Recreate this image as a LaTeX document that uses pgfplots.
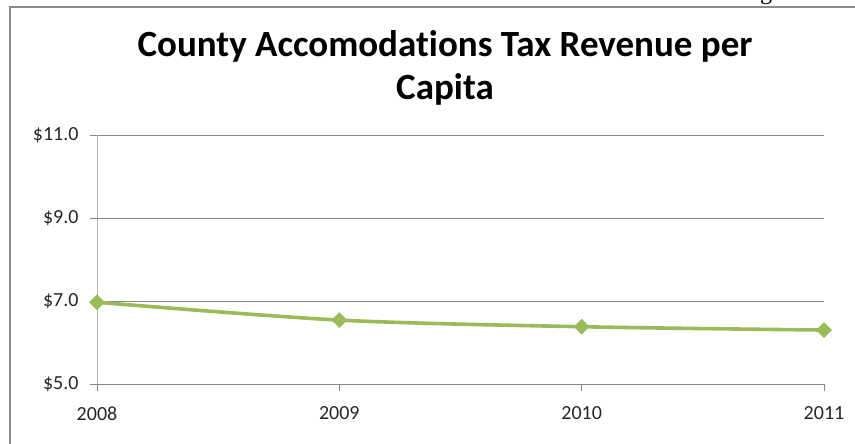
\documentclass[border=0pt]{standalone}
\usepackage{fontspec}
\setmainfont{Carlito}[Ligatures=NoCommon]
\newfontfamily\serifg{Liberation Serif}
\usepackage{pgfplots}
\pgfplotsset{compat=1.18}
\definecolor{linegreen}{HTML}{9BBB59}
\definecolor{gridgray}{HTML}{868686}
\definecolor{axisgray}{HTML}{B4B4B4}
\definecolor{framegray}{HTML}{8A8A8A}
\begin{document}
\begin{tikzpicture}
\useasboundingbox (0pt,0pt) rectangle (855pt,444pt);
\draw[framegray, line width=1.6pt] (10pt,-5pt) -- (10pt,437pt) -- (870pt,437pt);
\node[anchor=base, font=\serifg\fontsize{24}{28}\selectfont] at (766pt,444pt) {g};
\node[anchor=base, font=\fontsize{37}{42}\selectfont\bfseries] at (445pt,387pt) {County Accomodations Tax Revenue per};
\node[anchor=base, font=\fontsize{37}{42}\selectfont\bfseries] at (445pt,344pt) {Capita};
\begin{axis}[
  at={(97pt,60pt)}, anchor=south west,
  scale only axis, width=727pt, height=249pt,
  xmin=2008, xmax=2011, ymin=5, ymax=11,
  xtick={2008,2009,2010,2011}, ytick={5,7,9,11},
  axis lines*=left,
  axis line style={gridgray, line width=0.8pt},
  y axis line style={axisgray},
  ymajorgrids, grid style={gridgray, line width=0.8pt},
  tick align=outside, major tick length=7pt,
  tick style={gridgray, line width=0.8pt},
  /pgf/number format/assume math mode=true,
  tick label style={font=\fontsize{20}{24}\selectfont, text=black!85},
  x tick label style={/pgf/number format/1000 sep={}, yshift=-12pt},
  y tick label style={xshift=-8pt},
  yticklabel={\$\pgfmathprintnumber[fixed,fixed zerofill,precision=1]{\tick}},
  clip=false,
]
\addplot[linegreen, line width=3.6pt, smooth, mark=diamond*, mark size=7.5pt,
  mark options={xscale=1.33, solid, fill=linegreen, draw=linegreen, line width=0.5pt}]
  coordinates {(2008,6.97) (2009,6.54) (2010,6.38) (2011,6.30)};
\end{axis}
\end{tikzpicture}
\end{document}
